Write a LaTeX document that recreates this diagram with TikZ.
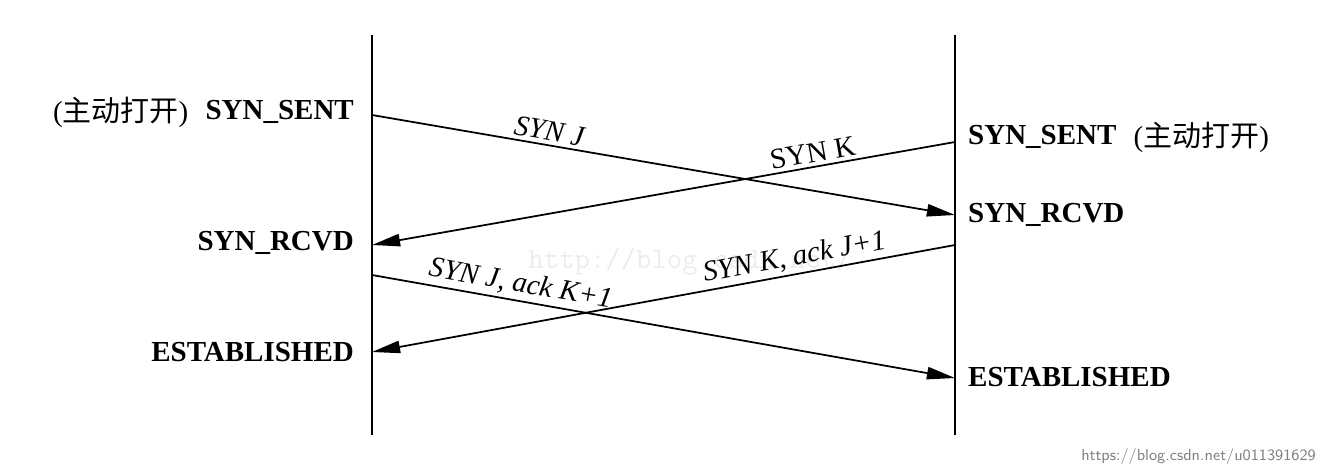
\documentclass[tikz,border=0pt]{standalone}
\usepackage{fontspec}
\setmainfont{Liberation Serif}
\newfontfamily\cjk{Noto Sans CJK SC}
\usetikzlibrary{arrows.meta}
\begin{document}
\begin{tikzpicture}[x=0.02cm,y=-0.02cm,
  st/.style={font=\fontsize{16.5}{19}\selectfont\bfseries},
  ml/.style={font=\fontsize{16.5}{19}\selectfont\itshape,sloped,above,inner sep=2pt},
  msg/.style={line width=1pt,-{Triangle[length=16pt,width=7pt]}},
  life/.style={line width=1pt}]
\useasboundingbox (0,0) rectangle (1328,474);
\coordinate (lt) at (372,35); \coordinate (lb) at (372,435);
\coordinate (rt) at (955,35); \coordinate (rb) at (955,435);
\node[font=\fontsize{17}{19}\ttfamily,text=gray!15] (wm) at (690,262) {http://blog.csdn.net/};
\draw[life] (lt) -- (lb); \draw[life] (rt) -- (rb);
\coordinate (a1) at (372,115); \coordinate (b1) at (955,215);
\coordinate (a2) at (955,142); \coordinate (b2) at (372,245);
\coordinate (a3) at (372,275); \coordinate (b3) at (955,378);
\coordinate (a4) at (955,245); \coordinate (b4) at (372,352);
\draw[msg] (a1) -- node[ml,pos=0.3]{SYN J} (b1);
\draw[msg] (a2) -- node[ml,pos=0.24,font=\fontsize{16.5}{19}\selectfont]{SYN K} (b2);
\draw[msg] (a3) -- node[ml,pos=0.25]{SYN J, ack K+1} (b3);
\draw[msg] (a4) -- node[ml,pos=0.27]{SYN K, ack J+1} (b4);
\node[st,anchor=east] (ls1) at (360,112) {SYN\_SENT};
\node[anchor=east,font=\fontsize{16.5}{19}\selectfont] (lo) at (ls1.west) {({\cjk 主动打开})\,};
\node[st,anchor=east] (ls2) at (360,243) {SYN\_RCVD};
\node[st,anchor=east] (ls3) at (360,352) {ESTABLISHED};
\node[st,anchor=west] (rs1) at (962,137) {SYN\_SENT};
\node[anchor=west,font=\fontsize{16.5}{19}\selectfont] (ro) at (rs1.east) {\,({\cjk 主动打开})};
\node[st,anchor=west] (rs2) at (962,215) {SYN\_RCVD};
\node[st,anchor=west] (rs3) at (962,377) {ESTABLISHED};
\node[anchor=east,font=\fontsize{9}{10}\sffamily,text=gray] (url) at (1322,457) {https://blog.csdn.net/u011391629};
\end{tikzpicture}
\end{document}
